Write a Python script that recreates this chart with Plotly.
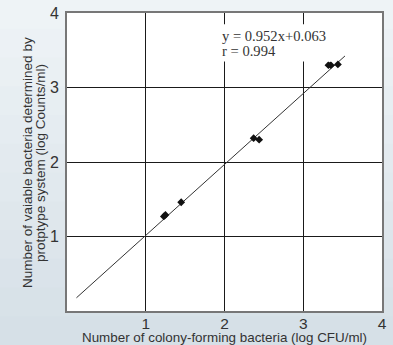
import plotly.graph_objects as go

# Data
x_cfu = [1.23, 1.25, 1.45, 2.37, 2.44, 3.32, 3.35, 3.44]
y_counts = [1.27, 1.29, 1.46, 2.32, 2.30, 3.30, 3.30, 3.31]
slope = 0.952
intercept = 0.063
fit_x = [0.12, 3.53]
fit_y = [slope * v + intercept for v in fit_x]
tick_vals = [1, 2, 3, 4]
tick_text = ["1", "2", "3", "4"]
eq_lines = ["y = 0.952x+0.063", "r = 0.994"]
x_title = "Number of colony-forming bacteria (log CFU/ml)"
y_title_lines = ["Number of vaiable bacteria determined by", "protptype system (log Counts/ml)"]

fig = go.Figure()

fig.add_trace(go.Scatter(
    x=fit_x, y=fit_y, mode="lines",
    line=dict(color="#333333", width=1), hoverinfo="skip", showlegend=False))

fig.add_trace(go.Scatter(
    x=x_cfu, y=y_counts, mode="markers",
    marker=dict(symbol="diamond", size=6, color="#111111"),
    showlegend=False))

# background gradient bands (paper coords)
W, H = 393, 345
L, R, T, B = 67, 11, 13, 34
pw, ph = W - L - R, H - T - B
n = 12
shapes = []
top_c = (238, 243, 246)
bot_c = (214, 224, 231)
for i in range(n):
    t = i / (n - 1)
    c = tuple(int(round(top_c[k] + (bot_c[k] - top_c[k]) * t)) for k in range(3))
    py0 = i * H / n
    py1 = (i + 1) * H / n + 1
    y1 = (H - B - py0) / ph
    y0 = (H - B - py1) / ph
    shapes.append(dict(type="rect", xref="paper", yref="paper",
                       x0=-L / pw - 0.05, x1=1 + R / pw + 0.05, y0=y0, y1=y1,
                       fillcolor="rgb(%d,%d,%d)" % c, line=dict(width=0), layer="below"))
shapes.append(dict(type="rect", xref="paper", yref="paper", x0=0, x1=1, y0=0, y1=1,
                   fillcolor="white", line=dict(width=0), layer="below"))
# white box behind the equation text (covers grid lines)
shapes.append(dict(type="rect", xref="x", yref="y", x0=1.87, x1=3.42, y0=3.35, y1=3.85,
                   fillcolor="white", line=dict(width=0), layer="above"))

ann = []
for i, txt in enumerate(eq_lines):
    ann.append(dict(x=1.96, y=3.69 - 0.2 * i, xref="x", yref="y", xanchor="left", yanchor="middle",
                    text=txt, showarrow=False, align="left", borderpad=0,
                    font=dict(family="Liberation Serif, DejaVu Serif, serif", size=14.6,
                              color="#333333")))
for i, txt in enumerate(y_title_lines):
    px = 27 + 13 * i
    ann.append(dict(x=(px - L) / pw, y=(H - B - 163) / ph, xref="paper", yref="paper",
                    xanchor="center", yanchor="middle", textangle=-90,
                    text=txt, showarrow=False, borderpad=0,
                    font=dict(size=13.5, color="#333333")))

fig.update_layout(
    width=W, height=H,
    margin=dict(l=L, r=R, t=T, b=B),
    paper_bgcolor="#e3eaef",
    plot_bgcolor="rgba(0,0,0,0)",
    shapes=shapes,
    font=dict(family="Liberation Sans, Arial, sans-serif", color="#333333"),
    xaxis=dict(range=[0, 4], tickvals=tick_vals, ticktext=tick_text, automargin=False,
               showgrid=True, gridcolor="#1a1a1a", gridwidth=1.3,
               zeroline=False, showline=True, linecolor="#777777", linewidth=2, mirror=True,
               ticks="", tickfont=dict(size=15.5, color="#333333"), ticklabelstandoff=-3,
               title=dict(text=x_title, font=dict(size=13.4, color="#333333"), standoff=0)),
    yaxis=dict(range=[0, 4], tickvals=tick_vals, ticktext=tick_text, automargin=False,
               showgrid=True, gridcolor="#1a1a1a", gridwidth=1.3,
               zeroline=False, showline=True, linecolor="#777777", linewidth=2, mirror=True,
               ticks="", tickfont=dict(size=16, color="#333333"), ticklabelstandoff=3),
    annotations=ann,
)

fig.write_html(
    "out.html",
    config={"displayModeBar": False},
    post_script="document.body.style.margin='0';document.body.style.padding='0';"
                "document.body.style.overflow='hidden';",
)
